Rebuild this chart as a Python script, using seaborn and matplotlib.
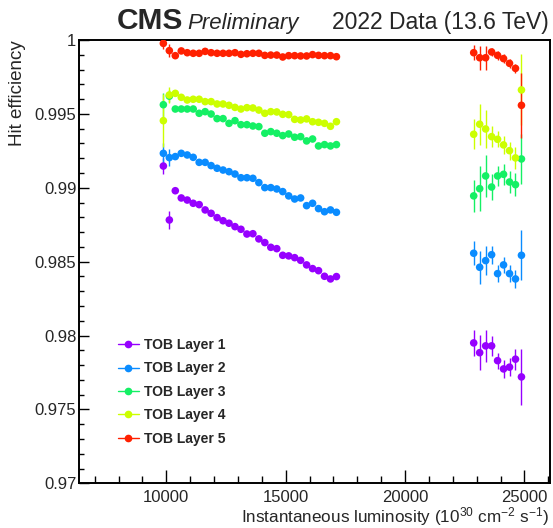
import numpy as np
import pandas as pd
import seaborn as sns
import matplotlib
matplotlib.use("Agg")
import matplotlib.pyplot as plt
from matplotlib.lines import Line2D
from matplotlib.ticker import MultipleLocator, FixedLocator, FixedFormatter

# ---------------- data ----------------
layers = ["TOB Layer 1", "TOB Layer 2", "TOB Layer 3", "TOB Layer 4", "TOB Layer 5"]
colors = ["#9600ff", "#0a8cff", "#14f064", "#ccff00", "#ff2000"]

lumi_left = [9875, 10125, 10375, 10625, 10875, 11125, 11375, 11625, 11875, 12125,
             12375, 12625, 12875, 13125, 13375, 13625, 13875, 14125, 14375, 14625,
             14875, 15125, 15375, 15625, 15875, 16125, 16375, 16625, 16875, 17125]
lumi_right = [22875, 23125, 23375, 23625, 23875, 24125, 24375, 24625, 24875]

l1_left = [0.99147, 0.98782, 0.98980, 0.98931, 0.98917, 0.98895, 0.98886, 0.98850, 0.98827, 0.98798,
           0.98777, 0.98760, 0.98737, 0.98719, 0.98687, 0.98689, 0.98654, 0.98629, 0.98597, 0.98588,
           0.98543, 0.98539, 0.98527, 0.98509, 0.98478, 0.98453, 0.98439, 0.98401, 0.98383, 0.98399]
l2_left = [0.99233, 0.99204, 0.99211, 0.99233, 0.99222, 0.99206, 0.99172, 0.99172, 0.99150, 0.99132,
           0.99120, 0.99109, 0.99093, 0.99068, 0.99068, 0.99064, 0.99035, 0.99001, 0.99001, 0.98992,
           0.98974, 0.98945, 0.98924, 0.98931, 0.98879, 0.98895, 0.98859, 0.98838, 0.98850, 0.98834]
l3_left = [0.99562, 0.99620, 0.99533, 0.99533, 0.99533, 0.99533, 0.99504, 0.99515, 0.99499, 0.99468,
           0.99468, 0.99436, 0.99454, 0.99427, 0.99427, 0.99418, 0.99414, 0.99369, 0.99380, 0.99369,
           0.99353, 0.99364, 0.99342, 0.99346, 0.99317, 0.99330, 0.99283, 0.99292, 0.99283, 0.99292]
l4_left = [0.99454, 0.99628, 0.99639, 0.99612, 0.99594, 0.99599, 0.99599, 0.99583, 0.99583, 0.99567,
           0.99567, 0.99558, 0.99544, 0.99533, 0.99542, 0.99540, 0.99526, 0.99504, 0.99515, 0.99513,
           0.99497, 0.99495, 0.99463, 0.99459, 0.99466, 0.99447, 0.99443, 0.99436, 0.99416, 0.99447]
l5_left = [0.99977, 0.99928, 0.99894, 0.99926, 0.99914, 0.99910, 0.99910, 0.99923, 0.99914, 0.99910,
           0.99910, 0.99910, 0.99914, 0.99903, 0.99907, 0.99910, 0.99910, 0.99896, 0.99898, 0.99898,
           0.99885, 0.99894, 0.99894, 0.99892, 0.99892, 0.99901, 0.99896, 0.99894, 0.99894, 0.99887]

l1_left_err = [0.00056, 0.00063] + [0.0001] * 28
l2_left_err = [0.00068, 0.00056] + [0.0001] * 28
l3_left_err = [0.0008, 0.0004] + [0.0001] * 28
l4_left_err = [0.0018, 0.00053, 0.00015] + [0.0001] * 27
l5_left_err = [0.0004, 0.00043] + [0.0001] * 28

l1_right = [0.97950, 0.97884, 0.97930, 0.97930, 0.97830, 0.97774, 0.97786, 0.97840, 0.97720]
l2_right = [0.98557, 0.98462, 0.98507, 0.98547, 0.98419, 0.98478, 0.98419, 0.98383, 0.98543]
l3_right = [0.98945, 0.98994, 0.99080, 0.99005, 0.99080, 0.99091, 0.99039, 0.99021, 0.99195]
l4_right = [0.99362, 0.99430, 0.99398, 0.99346, 0.99328, 0.99290, 0.99251, 0.99202, 0.99662]
l5_right = [0.99914, 0.99880, 0.99880, 0.99919, 0.99896, 0.99874, 0.99842, 0.99808, 0.99558]

l1_right_err = [0.0009, 0.0012, 0.0011, 0.0007, 0.00055, 0.0006, 0.0006, 0.0007, 0.0019]
l2_right_err = [0.0008, 0.0011, 0.0010, 0.0006, 0.00055, 0.00055, 0.00055, 0.0006, 0.0017]
l3_right_err = [0.0011, 0.0015, 0.0014, 0.0009, 0.0007, 0.0007, 0.00075, 0.0008, 0.0017]
l4_right_err = [0.0010, 0.0014, 0.0013, 0.0007, 0.00055, 0.0006, 0.0006, 0.00075, 0.0024]
l5_right_err = [0.0005, 0.0008, 0.0008, 0.0003, 0.0003, 0.0003, 0.0003, 0.0003, 0.0022]

ytick_vals = [0.97, 0.975, 0.98, 0.985, 0.99, 0.995, 1.0]
ytick_labels = ["0.97", "0.975", "0.98", "0.985", "0.99", "0.995", "1"]
xtick_vals = [10000, 15000, 20000, 25000]
xtick_labels = ["10000", "15000", "20000", "25000"]

lefts = [l1_left, l2_left, l3_left, l4_left, l5_left]
left_errs = [l1_left_err, l2_left_err, l3_left_err, l4_left_err, l5_left_err]
rights = [l1_right, l2_right, l3_right, l4_right, l5_right]
right_errs = [l1_right_err, l2_right_err, l3_right_err, l4_right_err, l5_right_err]

rows = []
for name, le, lee, ri, rie in zip(layers, lefts, left_errs, rights, right_errs):
    for x, y, e in zip(lumi_left, le, lee):
        rows.append((name, x, y, e))
    for x, y, e in zip(lumi_right, ri, rie):
        rows.append((name, x, y, e))
df = pd.DataFrame(rows, columns=["layer", "lumi", "eff", "err"])

# ---------------- style ----------------
sns.set_theme(style="ticks")
plt.rcParams["font.family"] = ["Liberation Sans", "DejaVu Sans"]
plt.rcParams["mathtext.fontset"] = "custom"
plt.rcParams["mathtext.rm"] = "Liberation Sans"
plt.rcParams["mathtext.it"] = "Liberation Sans:italic"
plt.rcParams["mathtext.bf"] = "Liberation Sans:bold"

W, H = 553, 528
fig = plt.figure(figsize=(W / 100, H / 100), dpi=100)
ax = fig.add_axes([78.5 / W, 1 - 483.3 / H, (549.5 - 78.5) / W, (483.3 - 40) / H])

palette = dict(zip(layers, colors))
for name in layers:
    sub = df[df.layer == name]
    ax.errorbar(sub.lumi, sub.eff, yerr=sub.err, fmt="none", ecolor=palette[name],
                elinewidth=1.0, capsize=0, zorder=2)
sns.scatterplot(data=df, x="lumi", y="eff", hue="layer", palette=palette,
                s=30, linewidth=0, legend=False, ax=ax, zorder=3)

ax.set_xlim(6320, 26050)
ax.set_ylim(0.97, 1.0)
ax.xaxis.set_major_locator(FixedLocator(xtick_vals))
ax.xaxis.set_major_formatter(FixedFormatter(xtick_labels))
ax.xaxis.set_minor_locator(MultipleLocator(1000))
ax.yaxis.set_major_locator(FixedLocator(ytick_vals))
ax.yaxis.set_major_formatter(FixedFormatter(ytick_labels))
ax.yaxis.set_minor_locator(MultipleLocator(0.001))

for sp in ax.spines.values():
    sp.set_linewidth(1.4)
    sp.set_color("black")
    sp.set_visible(True)

ax.tick_params(axis="x", which="major", direction="in", length=9.4, width=1.0,
               labelsize=12, pad=5, color="black", top=False)
ax.tick_params(axis="x", which="minor", direction="in", length=5, width=1.0,
               color="black", top=False)
ax.tick_params(axis="y", which="major", direction="in", length=7, width=1.0,
               labelsize=12, pad=1.5, color="black", right=False)
ax.tick_params(axis="y", which="minor", direction="in", length=3.6, width=1.0,
               color="black", right=False)

ax.set_xlabel(r"Instantaneous luminosity (10$^{30}$ cm$^{-2}$ s$^{-1}$)", fontsize=12.3,
              ha="right")
ax.xaxis.set_label_coords(0.999, -0.05)
ax.set_ylabel("Hit efficiency", fontsize=13.5, ha="right")
ax.yaxis.set_label_coords(-0.112, 1.0)

# legend
handles = [Line2D([0], [0], color=c, marker="o", markersize=4.5, linewidth=1.0) for c in colors]
fig.legend(handles, layers, loc="upper left", bbox_to_anchor=(118 / W, 1 - 338 / H),
           frameon=False, borderpad=0, borderaxespad=0, handlelength=1.5,
           handletextpad=0.38, labelspacing=0.68,
           prop={"family": "Liberation Sans", "weight": "bold", "size": 10})

# header
fig.text(117 / W, 1 - 29 / H, "CMS", fontsize=21.5, fontweight="bold", ha="left", va="baseline")
fig.text(187 / W, 1 - 29 / H, "Preliminary", fontsize=16, fontstyle="italic", ha="left", va="baseline")
fig.text(549 / W, 1 - 29 / H, "2022 Data (13.6 TeV)", fontsize=16.5, ha="right", va="baseline")

fig.savefig("out.png", dpi=100)
